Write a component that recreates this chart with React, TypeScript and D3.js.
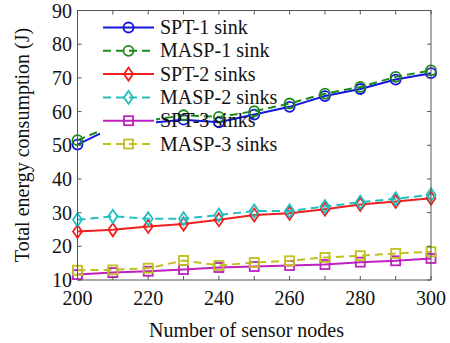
import React, { useEffect, useRef } from "react";
import * as d3 from "d3";

const nodes = [200, 210, 220, 230, 240, 250, 260, 270, 280, 290, 300];
const spt1 = [50.2, 55.3, 56.6, 57.6, 56.8, 59.1, 61.4, 64.6, 66.7, 69.5, 71.4];
const masp1 = [51.5, 55.8, 57.3, 58.9, 58.4, 60.1, 62.4, 65.3, 67.3, 70.3, 72.2];
const spt2 = [24.4, 24.9, 25.9, 26.6, 27.9, 29.3, 29.8, 31.0, 32.4, 33.3, 34.3];
const masp2 = [27.9, 28.9, 28.2, 28.2, 29.3, 30.5, 30.5, 31.8, 33.1, 34.1, 35.3];
const spt3 = [11.6, 12.2, 12.6, 13.1, 13.7, 14.0, 14.3, 14.6, 15.3, 15.7, 16.4];
const masp3 = [12.9, 13.0, 13.5, 15.8, 14.3, 15.2, 15.7, 16.7, 17.2, 17.9, 18.4];

const seriesNames = ["SPT-1 sink", "MASP-1 sink", "SPT-2 sinks", "MASP-2 sinks", "SPT-3 sinks", "MASP-3 sinks"];
const xTickLabels = [200, 220, 240, 260, 280, 300];
const yTicks = [10, 20, 30, 40, 50, 60, 70, 80, 90];

const W = 450, H = 343;
const left = 77.5, right = 431, top = 10.5, bottom = 280;
const FONT = "Times New Roman";

const series = [
  { name: seriesNames[0], values: spt1, color: "#1515e0", dash: null, marker: "circle" },
  { name: seriesNames[1], values: masp1, color: "#1c8a1c", dash: "8,5", marker: "circle" },
  { name: seriesNames[2], values: spt2, color: "#f02020", dash: null, marker: "diamond" },
  { name: seriesNames[3], values: masp2, color: "#20c0c0", dash: "8,5", marker: "diamond" },
  { name: seriesNames[4], values: spt3, color: "#c020c0", dash: null, marker: "square" },
  { name: seriesNames[5], values: masp3, color: "#c0c020", dash: "8,5", marker: "square" },
];

function Marker({ type, x, y, color }: { type: string; x: number; y: number; color: string }) {
  const common = { fill: "none", stroke: color, strokeWidth: 1.8 };
  if (type === "circle") return <circle cx={x} cy={y} r={5} {...common} />;
  if (type === "square") return <rect x={x - 4.5} y={y - 4.5} width={9} height={9} {...common} />;
  return <path d={`M${x},${y - 6.5}L${x + 4.5},${y}L${x},${y + 6.5}L${x - 4.5},${y}Z`} {...common} />;
}

export default function App() {
  const textRef = useRef<SVGGElement>(null);
  const x = d3.scaleLinear().domain([200, 300]).range([left, right]);
  const y = d3.scaleLinear().domain([10, 90]).range([bottom, top]);
  const line = d3.line<number>().x((_, i) => x(nodes[i])).y((d) => y(d));
  const axisColor = "#555";
  const legendY = (i: number) => 27.5 + i * 23.3;

  useEffect(() => {
    document.body.style.margin = "0";
    const g = d3.select(textRef.current);
    g.selectAll("*").remove();
    const add = (tx: string, px: number, py: number, anchor: string, transform?: string) => {
      const t = g.append("text")
        .attr("x", px).attr("y", py)
        .attr("font-family", FONT)
        .attr("font-size", 20)
        .attr("fill", "#111")
        .attr("text-anchor", anchor)
        .text(tx);
      if (transform) t.attr("transform", transform);
    };
    seriesNames.forEach((n, i) => add(n, 160, legendY(i) + 6.5, "start"));
    xTickLabels.forEach((n) => add(String(n), x(n), 305, "middle"));
    yTicks.forEach((t) => add(String(t), 72, y(t) + 7, "end"));
    add("Number of sensor nodes", 246.5, 337, "middle");
    add("Total energy consumption (J)", 0, 0, "middle", "translate(29,145) rotate(-90)");
  });

  return (
    <svg width={W} height={H} style={{ display: "block" }}>
      <rect x={0} y={0} width={W} height={H} fill="#fff" />
      {series.map((s) => (
        <g key={s.name}>
          <path d={line(s.values) || ""} fill="none" stroke={s.color} strokeWidth={2} strokeDasharray={s.dash || undefined} />
          {s.values.map((v, i) => (
            <Marker key={i} type={s.marker} x={x(nodes[i])} y={y(v)} color={s.color} />
          ))}
        </g>
      ))}
      {/* legend sample area covers lines */}
      <rect x={100} y={14} width={56} height={141} fill="#fff" />
      {series.map((s, i) => (
        <g key={"lg" + s.name}>
          <line x1={103} x2={154} y1={legendY(i)} y2={legendY(i)} stroke={s.color} strokeWidth={2} strokeDasharray={s.dash || undefined} />
          <Marker type={s.marker} x={128.5} y={legendY(i)} color={s.color} />
        </g>
      ))}
      {/* axes box */}
      <rect x={left} y={top} width={right - left} height={bottom - top} fill="none" stroke={axisColor} strokeWidth={1} />
      {nodes.map((n) => (
        <g key={"xt" + n}>
          <line x1={x(n)} x2={x(n)} y1={bottom} y2={bottom - 4} stroke={axisColor} />
          <line x1={x(n)} x2={x(n)} y1={top} y2={top + 4} stroke={axisColor} />
        </g>
      ))}
      {yTicks.map((t) => (
        <g key={"yt" + t}>
          <line x1={left} x2={left + 4} y1={y(t)} y2={y(t)} stroke={axisColor} />
          <line x1={right} x2={right - 4} y1={y(t)} y2={y(t)} stroke={axisColor} />
        </g>
      ))}
      <g ref={textRef} />
    </svg>
  );
}
